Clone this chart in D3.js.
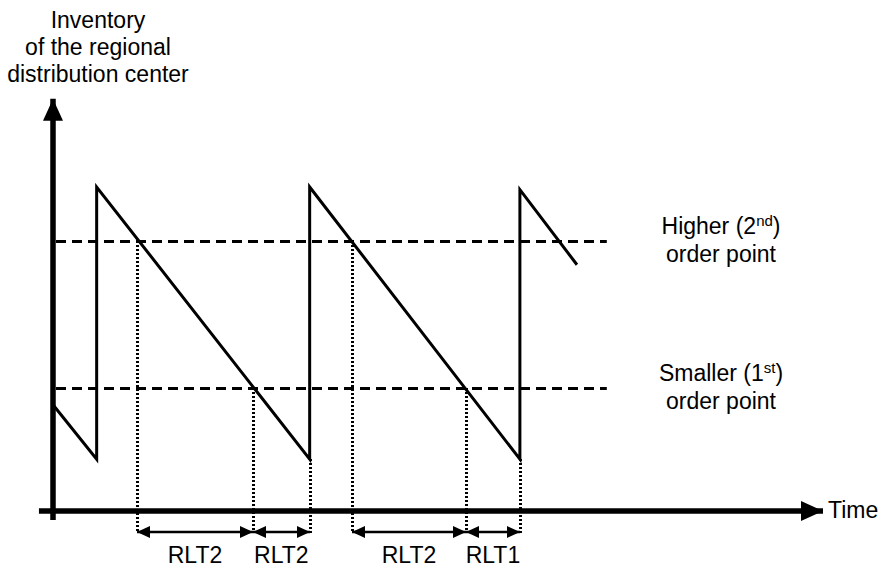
<!DOCTYPE html>
<html>
<head>
<meta charset="utf-8">
<script src="https://cdn.jsdelivr.net/npm/d3@7"></script>
<style>
  html, body { margin: 0; padding: 0; background: #fff; }
  svg { display: block; }
  text { font-family: "Liberation Sans", Arial, sans-serif; fill: #000; }
</style>
</head>
<body>
<svg id="chart" width="885" height="569"></svg>
<script>
// ---- data (time units, inventory units) ----
const sawTime = [0, 2.05, 2.05, 12.05, 12.05, 21.92, 21.92, 24.6];
const sawInv  = [41, 20, 125, 20, 125, 20, 124, 95];
const orderPointNames = ["Higher", "Smaller"];
const orderPointOrd   = ["2nd", "1st"];
const orderPointInv   = [104.2, 47.5];
const dropTimes = [3.94, 9.39, 12.05, 14.04, 19.39, 21.92];
const dropFromInv = [104.2, 47.5, 20, 104.2, 47.5, 20];
const intervalStart = [3.94, 9.39, 14.04, 19.39];
const intervalEnd   = [9.39, 12.05, 19.39, 21.92];
const intervalLabels = ["RLT2", "RLT2", "RLT2", "RLT1"];
const yTitleLines = ["Inventory", "of the regional", "distribution center"];
const xTitle = "Time";

// ---- scales ----
const x = d3.scaleLinear().domain([0, 10]).range([53, 266]);
const y = d3.scaleLinear().domain([0, 125]).range([511, 187]);

const svg = d3.select("#chart");
const defs = svg.append("defs");

// arrowheads
function marker(id, w, h) {
  defs.append("marker")
    .attr("id", id)
    .attr("viewBox", `0 0 ${w} ${h}`)
    .attr("refX", w).attr("refY", h / 2)
    .attr("markerWidth", w).attr("markerHeight", h)
    .attr("markerUnits", "userSpaceOnUse")
    .attr("orient", "auto-start-reverse")
    .append("path")
    .attr("d", `M0,0 L${w},${h/2} L0,${h} Z`)
    .attr("fill", "#000");
}
marker("axisArrow", 22, 20);
marker("smallArrow", 13, 12);

// dashed order point lines
svg.append("g").selectAll("line").data(orderPointInv).join("line")
  .attr("x1", x(0) + 3).attr("x2", x(26.0))
  .attr("y1", d => Math.round(y(d)) + 0.5).attr("y2", d => Math.round(y(d)) + 0.5)
  .attr("stroke", "#000").attr("stroke-width", 3)
  .attr("stroke-dasharray", "10,6");

// dotted drop lines
svg.append("g").attr("shape-rendering", "crispEdges")
  .selectAll("line").data(dropTimes).join("line")
  .attr("x1", d => Math.round(x(d)) + 0.5).attr("x2", d => Math.round(x(d)) + 0.5)
  .attr("y1", (d, i) => y(dropFromInv[i])).attr("y2", y(-8.5))
  .attr("stroke", "#000").attr("stroke-width", 3)
  .attr("stroke-dasharray", "2,2");

// sawtooth inventory line
const pts = sawTime.map((t, i) => [t, sawInv[i]]);
svg.append("path")
  .datum(pts)
  .attr("d", d3.line().x(d => x(d[0])).y(d => y(d[1])))
  .attr("fill", "none").attr("stroke", "#000")
  .attr("stroke-width", 3).attr("stroke-linejoin", "miter");

// axes
svg.append("line")
  .attr("x1", x(-0.66)).attr("x2", x(36.15))
  .attr("y1", y(0)).attr("y2", y(0))
  .attr("stroke", "#000").attr("stroke-width", 5.5)
  .attr("marker-end", "url(#axisArrow)");
svg.append("line")
  .attr("x1", x(0)).attr("x2", x(0))
  .attr("y1", y(-3.5)).attr("y2", y(159))
  .attr("stroke", "#000").attr("stroke-width", 5.5)
  .attr("marker-end", "url(#axisArrow)");

// interval double arrows
const iv = svg.append("g");
intervalStart.forEach((s, i) => {
  iv.append("line")
    .attr("x1", Math.round(x(s))).attr("x2", Math.round(x(intervalEnd[i])))
    .attr("y1", y(-8.1)).attr("y2", y(-8.1))
    .attr("stroke", "#000").attr("stroke-width", 2.5)
    .attr("marker-start", "url(#smallArrow)")
    .attr("marker-end", "url(#smallArrow)");
  iv.append("text")
    .attr("x", (x(s) + x(intervalEnd[i])) / 2)
    .attr("y", 563)
    .attr("text-anchor", "middle")
    .attr("font-size", 23)
    .text(intervalLabels[i]);
});

// y title
svg.append("g").selectAll("text").data(yTitleLines).join("text")
  .attr("x", 98).attr("y", (d, i) => 28 + i * 27)
  .attr("text-anchor", "middle").attr("font-size", 23)
  .text(d => d);

// x title
svg.append("text").attr("x", 828).attr("y", 518)
  .attr("font-size", 23).text(xTitle);

// order point labels
orderPointInv.forEach((v, i) => {
  const baseY = [234, 381][i];
  const t = svg.append("text")
    .attr("x", 721).attr("y", baseY)
    .attr("text-anchor", "middle").attr("font-size", 23);
  t.append("tspan").text(orderPointNames[i] + " (" + orderPointOrd[i].slice(0, 1));
  t.append("tspan").attr("font-size", 15).attr("dy", -8).text(orderPointOrd[i].slice(1));
  t.append("tspan").attr("dy", 8).text(")");
  svg.append("text")
    .attr("x", 721).attr("y", baseY + 28)
    .attr("text-anchor", "middle").attr("font-size", 23)
    .text("order point");
});
</script>
</body>
</html>
